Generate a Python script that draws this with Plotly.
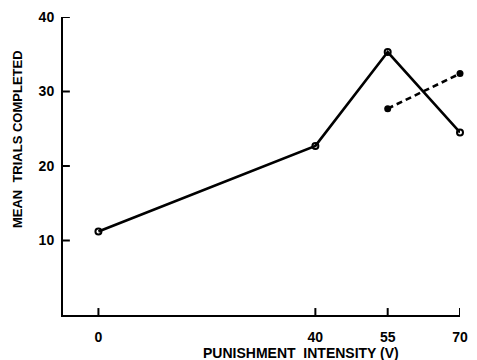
import numpy as np
import plotly.graph_objects as go

# Punishment intensity (volts) and mean trials completed
volts_main = [0, 40, 55, 70]
trials_main = [11.2, 22.7, 35.3, 24.5]

volts_alt = [55, 70]
trials_alt = [27.7, 32.4]

tick_volts = [0, 40, 55, 70]
tick_text = ["0", "40", "55", "70"]
y_ticks = [10, 20, 30, 40]

# The intensity axis is drawn on a piecewise scale: 0-40 spans three steps,
# each later 15 V interval one step.
scale_volts = [0, 40, 55, 70]
scale_pos = [0, 3, 4, 5]


def to_axis(v):
    return [float(p) for p in np.interp(v, scale_volts, scale_pos)]


FONT = "Liberation Sans"
PLOT_W, PLOT_H = 405, 300
TICK_PX = 7

fig = go.Figure()
fig.add_trace(go.Scatter(
    x=to_axis(volts_main), y=trials_main, mode="lines+markers",
    line=dict(color="black", width=2.6),
    marker=dict(symbol="circle-open", size=6, color="black", line=dict(width=2)),
    cliponaxis=False, showlegend=False,
))
fig.add_trace(go.Scatter(
    x=to_axis(volts_alt), y=trials_alt, mode="lines+markers",
    line=dict(color="black", width=2.6, dash="6px,4px"),
    marker=dict(symbol="circle", size=7, color="black"),
    cliponaxis=False, showlegend=False,
))

# Inward tick marks on both axes
shapes = []
for xv in to_axis(tick_volts):
    shapes.append(dict(type="line", xref="x", yref="paper",
                       x0=xv, x1=xv, y0=0, y1=TICK_PX / PLOT_H,
                       line=dict(color="black", width=2)))
for yv in y_ticks:
    shapes.append(dict(type="line", xref="paper", yref="y",
                       x0=0, x1=TICK_PX / PLOT_W, y0=yv, y1=yv,
                       line=dict(color="black", width=2)))

fig.update_layout(
    width=477, height=360,
    margin=dict(l=63, r=9, t=15, b=45),
    paper_bgcolor="white", plot_bgcolor="white",
    font=dict(family=FONT, color="black"),
    shapes=shapes,
    xaxis=dict(
        range=[-0.49, 5.0], showgrid=False, zeroline=False,
        showline=True, linecolor="black", linewidth=2,
        ticks="", tickmode="array",
        tickvals=to_axis(tick_volts), ticktext=tick_text,
        ticklabelstandoff=8,
        tickfont=dict(family=FONT, size=14, weight="bold"),
    ),
    yaxis=dict(
        range=[0, 40], showgrid=False, zeroline=False,
        showline=True, linecolor="black", linewidth=2,
        ticks="", tickmode="array", tickvals=y_ticks,
        ticklabelstandoff=4,
        tickfont=dict(family=FONT, size=14, weight="bold"),
    ),
    annotations=[
        dict(text="MEAN  TRIALS COMPLETED", textangle=-90,
             xref="paper", yref="paper", x=(16 - 63) / PLOT_W, y=(315 - 138) / PLOT_H,
             xanchor="center", yanchor="middle", showarrow=False,
             font=dict(family=FONT, size=13, weight="bold")),
        dict(text="PUNISHMENT  INTENSITY (V)",
             xref="paper", yref="paper", x=(306 - 63) / PLOT_W, y=(315 - 353) / PLOT_H,
             xanchor="center", yanchor="middle", showarrow=False,
             font=dict(family=FONT, size=14, weight="bold")),
    ],
)

fig.write_html("out.html")
